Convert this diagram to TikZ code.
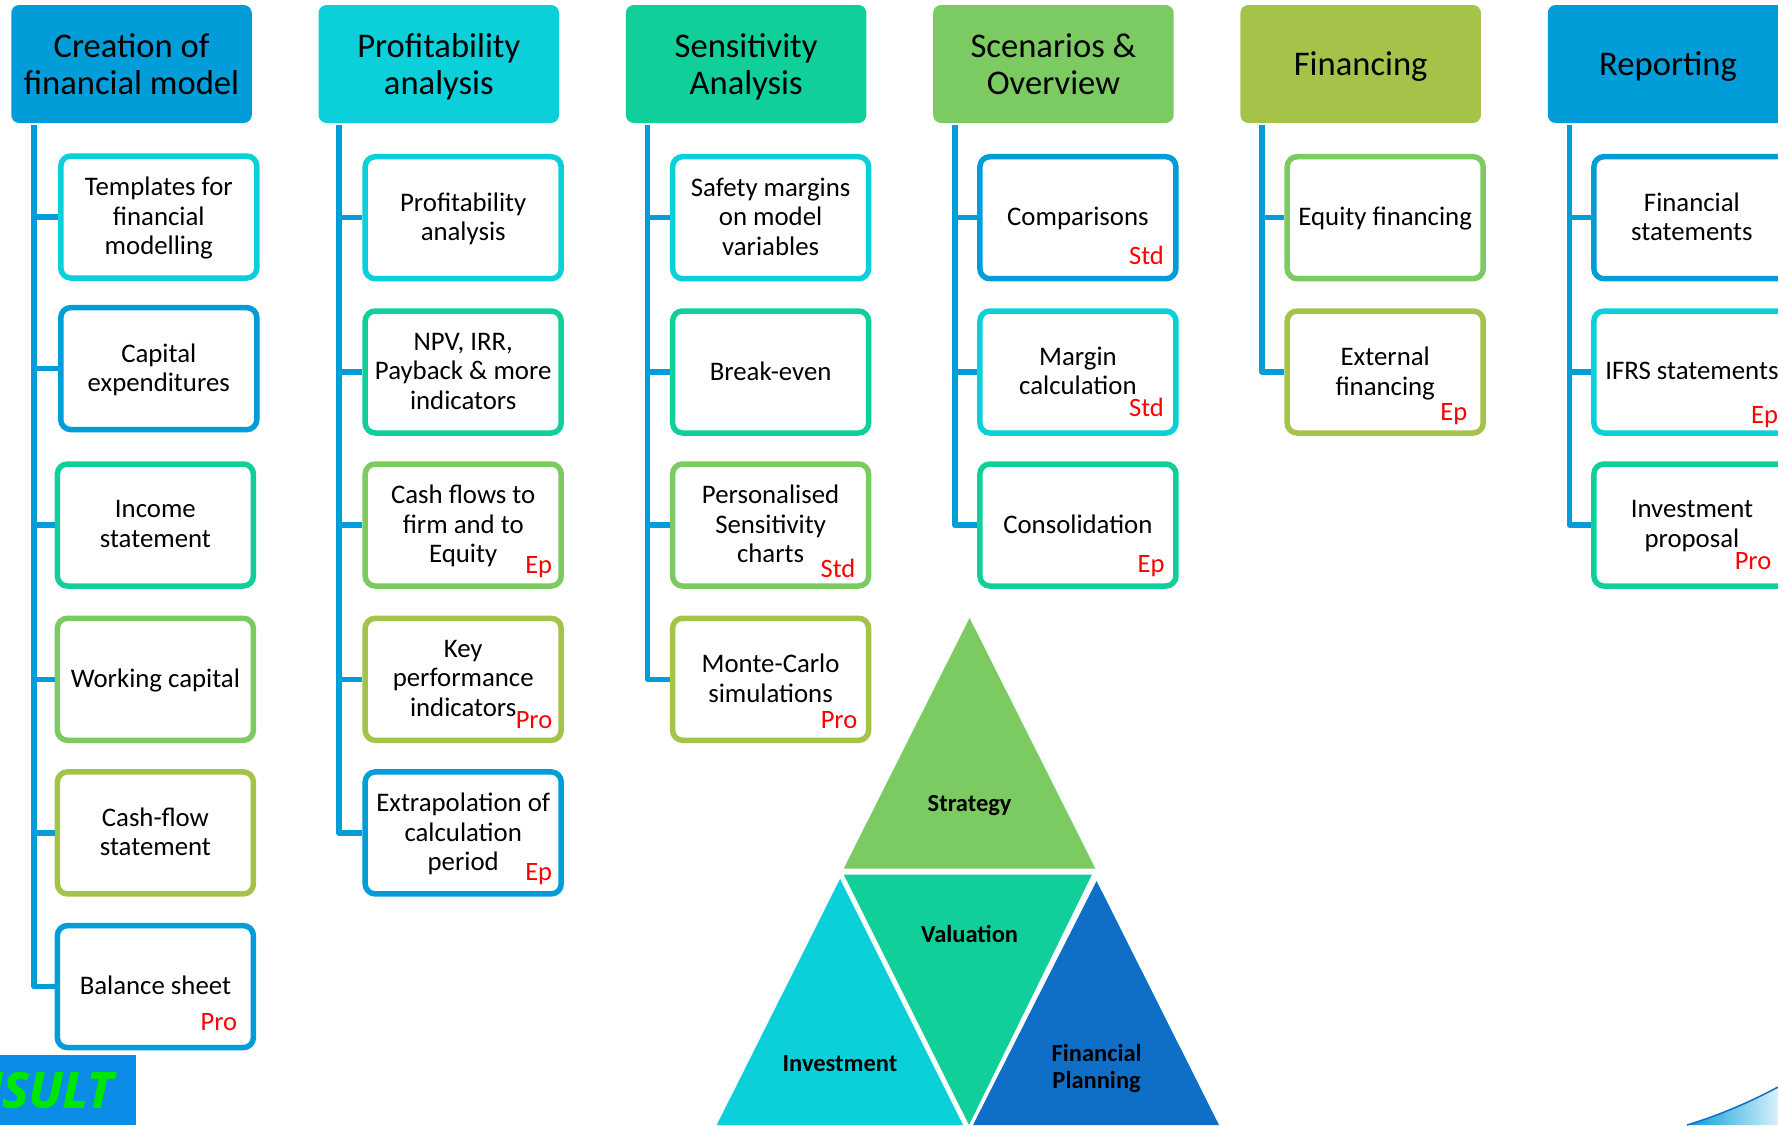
\documentclass[tikz,border=0pt]{standalone}
\usepackage{fontspec}
\setmainfont{Carlito}
\newfontfamily\bannerfont[BoldItalicFeatures={FakeBold=1.5}]{Open Sans}
\usetikzlibrary{positioning}
\definecolor{accBlue}{HTML}{009DD9}
\definecolor{accCyan}{HTML}{0BD0D9}
\definecolor{accGreen}{HTML}{10CF9B}
\definecolor{accLime}{HTML}{7CCA62}
\definecolor{accOlive}{HTML}{A5C249}
\definecolor{accNavy}{HTML}{0F6FC6}
\definecolor{bannerBlue}{HTML}{0B8CE6}
\definecolor{bannerGreen}{HTML}{00E600}
\tikzset{
hdrbox/.style={fill=#1,rounded corners=8pt,minimum width=240.5pt,minimum height=118pt,inner sep=0pt,align=center,text depth=0pt,font=\fontsize{34.6}{37.4}\selectfont},
itembox/.style={draw=#1,line width=5.5pt,fill=white,rounded corners=10pt,minimum width=196pt,minimum height=122pt,inner sep=0pt,align=center,text depth=2pt,font=\fontsize{26.8}{29.5}\selectfont},
tagtext/.style={text=red,inner sep=0pt,font=\fontsize{26.5}{30}\selectfont},
trilabel/.style={inner sep=0pt,align=center,text depth=1pt,font=\fontsize{24.5}{27}\selectfont\bfseries},
trunkline/.style={draw=accBlue,line width=5.5pt,line join=round}
}
\begin{document}
\begin{tikzpicture}[x=1pt,y=-1pt]
\useasboundingbox (0,0) rectangle (1778,1125);
\clip (0,0) rectangle (1778,1125);
% headers
\node[hdrbox=accBlue] (hdrA) at (131.5,64) {Creation of\\financial model};
\node[hdrbox=accCyan] (hdrB) at (438.8,64) {Profitability\\analysis};
\node[hdrbox=accGreen] (hdrC) at (746.1,64) {Sensitivity\\Analysis};
\node[hdrbox=accLime] (hdrD) at (1053.4,64) {Scenarios \&\\Overview};
\node[hdrbox=accOlive] (hdrE) at (1360.7,64) {Financing};
\node[hdrbox=accBlue] (hdrF) at (1668,64) {Reporting};
\coordinate (trunkA) at (34,125);
\coordinate (trunkB) at (339,125);
\coordinate (trunkC) at (647.5,125);
\coordinate (trunkD) at (955,125);
\coordinate (trunkE) at (1262,125);
\coordinate (trunkF) at (1569.5,125);
% first column
\node[itembox=accCyan] (boxA1) at (158.8,217) {Templates for\\financial\\modelling};
\node[itembox=accBlue] (boxA2) at (158.8,368.6) {Capital\\expenditures};
\node[itembox=accGreen] (boxA3) at (155.4,525) {Income\\statement};
\node[itembox=accLime] (boxA4) at (155.4,679.3) {Working capital};
\node[itembox=accOlive] (boxA5) at (155.4,832.9) {Cash-flow\\statement};
\node[itembox=accBlue] (boxA6) at (155.4,986.6) {Balance sheet};
\node[tagtext] (tagA6) at (218.9,1021.7) {Pro};
% second column
\node[itembox=accCyan] (boxB1) at (463.2,217.7) {Profitability\\analysis};
\node[itembox=accGreen] (boxB2) at (463.2,372) {NPV, IRR,\\Payback \& more\\indicators};
\node[itembox=accLime] (boxB3) at (463.2,525) {Cash flows to\\firm and to\\Equity};
\node[itembox=accOlive] (boxB4) at (463.2,679.3) {Key\\performance\\indicators};
\node[itembox=accBlue] (boxB5) at (463.2,832.9) {Extrapolation of\\calculation\\period};
\node[tagtext] (tagB3) at (538.7,567) {Ep};
\node[tagtext] (tagB4) at (534,720) {Pro};
\node[tagtext] (tagB5) at (538.7,874.3) {Ep};
% third column
\node[itembox=accCyan] (boxC1) at (770.6,217.7) {Safety margins\\on model\\variables};
\node[itembox=accGreen] (boxC2) at (770.6,372) {Break-even};
\node[itembox=accLime] (boxC3) at (770.6,525) {Personalised\\Sensitivity\\charts};
\node[itembox=accOlive] (boxC4) at (770.6,679.3) {Monte-Carlo\\simulations};
\node[tagtext] (tagC3) at (838,568) {Std};
\node[tagtext] (tagC4) at (839,720) {Pro};
% fourth column
\node[itembox=accBlue] (boxD1) at (1077.9,217.7) {Comparisons};
\node[itembox=accCyan] (boxD2) at (1077.9,372) {Margin\\calculation};
\node[itembox=accGreen] (boxD3) at (1077.9,525) {Consolidation};
\node[tagtext] (tagD1) at (1146.5,255) {Std};
\node[tagtext] (tagD2) at (1146.5,407) {Std};
\node[tagtext] (tagD3) at (1151,566) {Ep};
% fifth column
\node[itembox=accLime] (boxE1) at (1385.2,217.7) {Equity financing};
\node[itembox=accOlive] (boxE2) at (1385.2,372) {External\\financing};
\node[tagtext] (tagE2) at (1453.8,414) {Ep};
% sixth column
\node[itembox=accBlue] (boxF1) at (1691.9,217.7) {Financial\\statements};
\node[itembox=accCyan] (boxF2) at (1691.9,372) {IFRS statements};
\node[itembox=accGreen] (boxF3) at (1691.9,525) {Investment\\proposal};
\node[tagtext] (tagF2) at (1764.5,417.3) {Ep};
\node[tagtext] (tagF3) at (1753,561) {Pro};
% connectors
\draw[trunkline] (trunkA) |- (boxA1.west);
\draw[trunkline] (trunkA) |- (boxA2.west);
\draw[trunkline] (trunkA) |- (boxA3.west);
\draw[trunkline] (trunkA) |- (boxA4.west);
\draw[trunkline] (trunkA) |- (boxA5.west);
\draw[trunkline] (trunkA) |- (boxA6.west);
\draw[trunkline] (trunkB) |- (boxB1.west);
\draw[trunkline] (trunkB) |- (boxB2.west);
\draw[trunkline] (trunkB) |- (boxB3.west);
\draw[trunkline] (trunkB) |- (boxB4.west);
\draw[trunkline] (trunkB) |- (boxB5.west);
\draw[trunkline] (trunkC) |- (boxC1.west);
\draw[trunkline] (trunkC) |- (boxC2.west);
\draw[trunkline] (trunkC) |- (boxC3.west);
\draw[trunkline] (trunkC) |- (boxC4.west);
\draw[trunkline] (trunkD) |- (boxD1.west);
\draw[trunkline] (trunkD) |- (boxD2.west);
\draw[trunkline] (trunkD) |- (boxD3.west);
\draw[trunkline] (trunkE) |- (boxE1.west);
\draw[trunkline] (trunkE) |- (boxE2.west);
\draw[trunkline] (trunkF) |- (boxF1.west);
\draw[trunkline] (trunkF) |- (boxF2.west);
\draw[trunkline] (trunkF) |- (boxF3.west);
% triangles
\fill[accLime] (969.6,618) -- (843.7,868.6) -- (1095.4,868.6) -- cycle;
\fill[accGreen] (843.7,874.5) -- (1092,874.5) -- (969,1125) -- cycle;
\fill[accCyan] (840,879) -- (716.7,1125) -- (963,1125) -- cycle;
\fill[accNavy] (1096.6,881) -- (973,1125) -- (1219,1125) -- cycle;
\node[trilabel] (lblStrategy) at (969.6,804) {Strategy};
\node[trilabel] (lblValuation) at (969.6,934) {Valuation};
\node[trilabel] (lblInvestment) at (840,1064) {Investment};
\node[trilabel] (lblPlanning) at (1096.6,1067) {Financial\\Planning};
% corners
\fill[bannerBlue] (0,1055) rectangle (136,1125);
\node[anchor=east,inner sep=0pt,text=bannerGreen,font=\fontsize{49}{49}\bannerfont\bfseries\itshape] (bannerText) at (113,1090) {ISULT};
\shade[left color=accBlue,right color=accBlue!15] (1687,1125) .. controls (1720,1115) and (1750,1102) .. (1778,1087) -- (1778,1125) -- cycle;
\draw[accNavy,line width=1.5pt] (1687,1125) .. controls (1720,1115) and (1750,1102) .. (1778,1087);
\end{tikzpicture}
\end{document}
